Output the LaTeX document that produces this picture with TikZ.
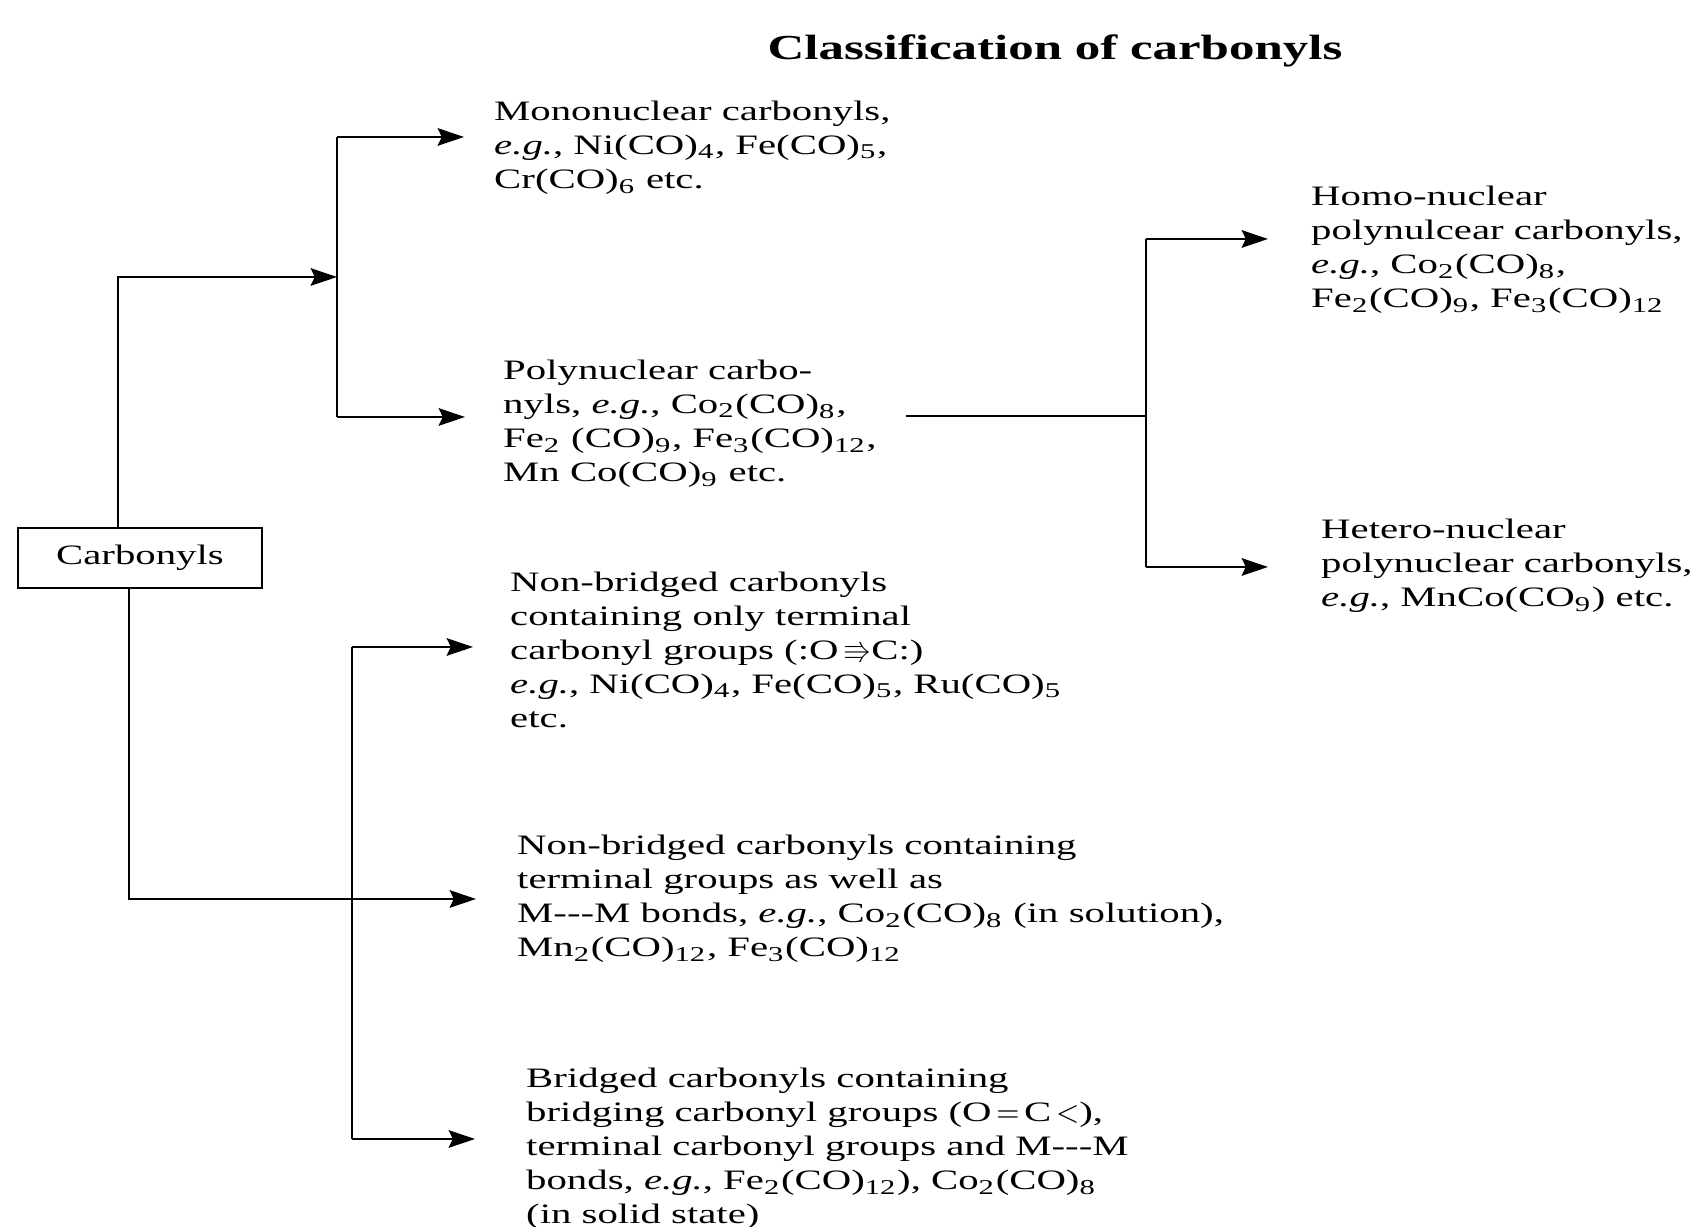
\documentclass[tikz,border=0pt]{standalone}
\usepackage{amssymb}
\usepackage{fontspec}
\setmainfont{Liberation Serif}[FakeStretch=1.45]
\usetikzlibrary{arrows.meta}

\newcommand{\low}[1]{\textsubscript{#1}}
\newcommand{\eg}{\textit{e.g.}}

\tikzset{
  arr/.style={-{Stealth[length=7.5pt,width=5pt,inset=1.2pt]}},
  desc/.style={anchor=west, align=left, inner sep=0pt, font=\fontsize{8}{9.7}\selectfont},
  rootbox/.style={draw, minimum width=24.4mm, minimum height=6mm, inner sep=0pt, font=\fontsize{8}{9.7}\selectfont},
}

\begin{document}
\begin{tikzpicture}[x=0.1mm, y=-0.1mm, line width=0.7pt]
\useasboundingbox (0,0) rectangle (1706,1227);

\node[font=\fontsize{10}{12}\selectfont\bfseries] (title) at (1055,51) {Classification of carbonyls};

\node[rootbox] (carb) at (140,558) {Carbonyls};

% middle column
\node[desc] (mono) at (493,148) {Mononuclear carbonyls,\\
  \eg, Ni(CO)\low{4}, Fe(CO)\low{5},\\
  Cr(CO)\low{6} etc.};
\node[desc] (poly) at (502,424) {Polynuclear carbo-\\
  nyls, \eg, Co\low{2}(CO)\low{8},\\
  Fe\low{2} (CO)\low{9}, Fe\low{3}(CO)\low{12},\\
  Mn Co(CO)\low{9} etc.};
\node[desc] (nb1) at (509,650) {Non-bridged carbonyls\\
  containing only terminal\\
  carbonyl groups (:O\,$\Rrightarrow$C:)\\
  \eg, Ni(CO)\low{4}, Fe(CO)\low{5}, Ru(CO)\low{5}\\
  etc.};
\node[desc] (nb2) at (516,899) {Non-bridged carbonyls containing\\
  terminal groups as well as\\
  M-{}-{}-M bonds, \eg, Co\low{2}(CO)\low{8} (in solution),\\
  Mn\low{2}(CO)\low{12}, Fe\low{3}(CO)\low{12}};
\node[desc] (bri) at (525,1149) {Bridged carbonyls containing\\
  bridging carbonyl groups (O\,$=$\,C\,$<$),\\
  terminal carbonyl groups and M-{}-{}-M\\
  bonds, \eg, Fe\low{2}(CO)\low{12}), Co\low{2}(CO)\low{8}\\
  (in solid state)};

% right column
\node[desc] (homo) at (1310,250) {Homo-nuclear\\
  polynulcear carbonyls,\\
  \eg, Co\low{2}(CO)\low{8},\\
  Fe\low{2}(CO)\low{9}, Fe\low{3}(CO)\low{12}};
\node[desc] (het) at (1320,566) {Hetero-nuclear\\
  polynuclear carbonyls,\\
  \eg, MnCo(CO\low{9}) etc.};

% junctions
\coordinate (up) at (337,277);
\coordinate (upT) at (337,137);
\coordinate (upB) at (337,417);
\coordinate (lowT) at (352,647);
\coordinate (lowB) at (352,1139);
\coordinate (pout) at (906,416);
\coordinate (rg) at (1146,416);
\coordinate (rgT) at (1146,239);
\coordinate (rgB) at (1146,567);

% connectors
\draw[arr] ([xshift=-2.2mm]carb.north) |- (up);
\draw (upT) -- (upB);
\draw[arr, shorten >=2.9mm] (upT) -- (upT -| mono.west);
\draw[arr, shorten >=3.7mm] (upB) -- (upB -| poly.west);

\draw[arr, shorten >=4mm] ([xshift=-1.1mm]carb.south) |- (nb2.west);
\draw (lowT) -- (lowB);
\draw[arr, shorten >=3.6mm] (lowT) -- (lowT -| nb1.west);
\draw[arr, shorten >=5mm] (lowB) -- (lowB -| bri.west);

\draw (pout) -- (rg);
\draw (rgT) -- (rgB);
\draw[arr, shorten >=4.2mm] (rgT) -- (rgT -| homo.west);
\draw[arr, shorten >=5.2mm] (rgB) -- (rgB -| het.west);
\end{tikzpicture}
\end{document}
